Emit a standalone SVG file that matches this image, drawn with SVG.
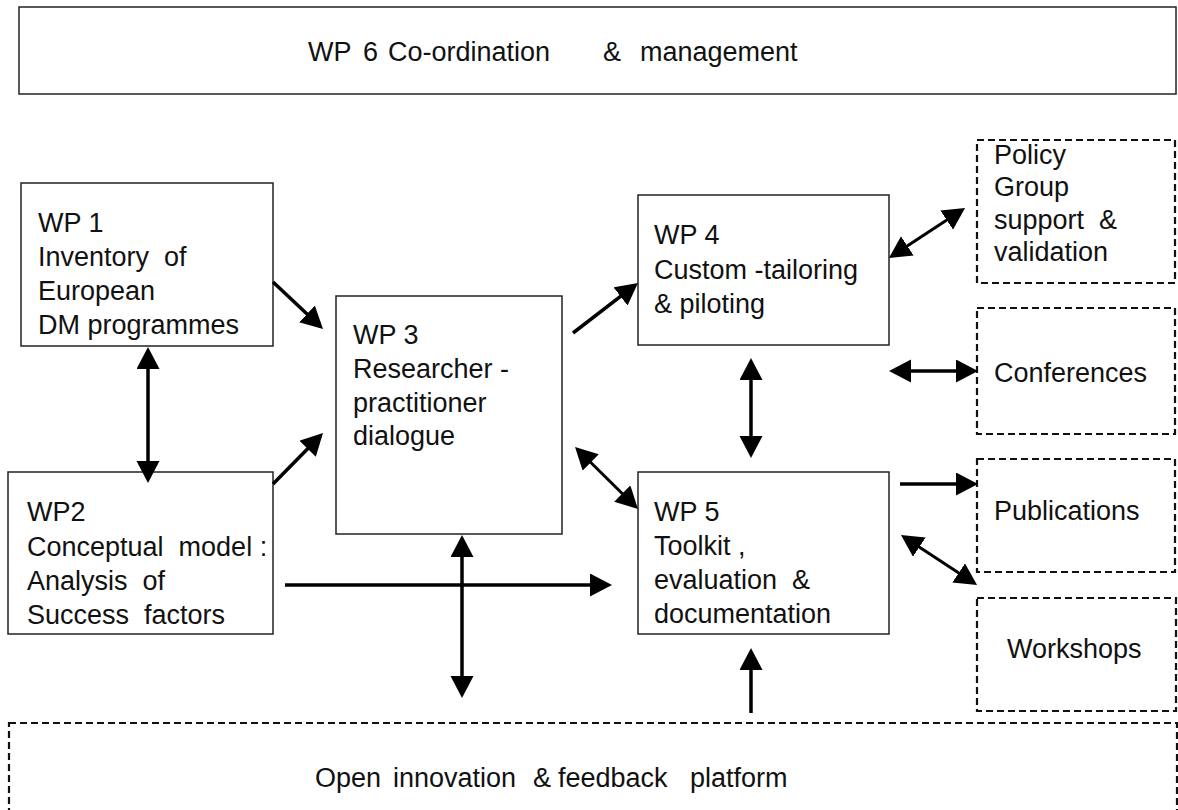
<svg xmlns="http://www.w3.org/2000/svg" width="1178" height="810" viewBox="0 0 1178 810">
<style>
  .box{fill:#fff;stroke:#222;stroke-width:1.5}
  .dbox{fill:#fff;stroke:#111;stroke-width:2.2;stroke-dasharray:7 4}
  .t{font-family:"Liberation Sans",Arial,sans-serif;font-size:27px;fill:#111}
  .c{stroke:#000;stroke-width:3.5;fill:none;marker-end:url(#ah)}
  .c2{stroke:#000;stroke-width:3.5;fill:none;marker-end:url(#ah);marker-start:url(#ah)}
</style>
<defs>
  <marker id="ah" markerUnits="userSpaceOnUse" markerWidth="24" markerHeight="24" refX="18" refY="11.5" orient="auto-start-reverse">
    <path d="M0,0 L22,11.5 L0,23 z" fill="#000"/>
  </marker>
</defs>
<rect width="1178" height="810" fill="#fff"/>

<g id="wp6">
  <rect class="box" x="19" y="7" width="1157" height="87"/>
  <text class="t" y="61"><tspan x="308">WP</tspan><tspan x="363">6</tspan><tspan x="388">Co-ordination</tspan><tspan x="603">&amp;</tspan><tspan x="640">management</tspan></text>
</g>

<g id="wp1">
  <rect class="box" x="21" y="183" width="252" height="163"/>
  <text class="t" xml:space="preserve"><tspan x="38" y="232">WP 1</tspan><tspan x="38" y="266">Inventory  of</tspan><tspan x="38" y="300">European</tspan><tspan x="38" y="334">DM programmes</tspan></text>
</g>

<g id="wp2">
  <rect class="box" x="8" y="472" width="265" height="162"/>
  <text class="t" xml:space="preserve"><tspan x="27" y="521">WP2</tspan><tspan x="27" y="556">Conceptual  model :</tspan><tspan x="27" y="590">Analysis  of</tspan><tspan x="27" y="624">Success  factors</tspan></text>
</g>

<g id="wp3">
  <rect class="box" x="336" y="296" width="226" height="238"/>
  <text class="t" xml:space="preserve"><tspan x="353" y="344">WP 3</tspan><tspan x="353" y="378">Researcher -</tspan><tspan x="353" y="412">practitioner</tspan><tspan x="353" y="445">dialogue</tspan></text>
</g>

<g id="wp4">
  <rect class="box" x="638" y="195" width="251" height="150"/>
  <text class="t" xml:space="preserve"><tspan x="654" y="244">WP 4</tspan><tspan x="654" y="279">Custom -tailoring</tspan><tspan x="654" y="313">&amp; piloting</tspan></text>
</g>

<g id="wp5">
  <rect class="box" x="638" y="472" width="251" height="162"/>
  <text class="t" xml:space="preserve"><tspan x="654" y="521">WP 5</tspan><tspan x="654" y="555">Toolkit ,</tspan><tspan x="654" y="589">evaluation  &amp;</tspan><tspan x="654" y="623">documentation</tspan></text>
</g>

<g id="policy">
  <rect class="dbox" x="977" y="140" width="198" height="143"/>
  <text class="t" xml:space="preserve"><tspan x="994" y="164">Policy</tspan><tspan x="994" y="196">Group</tspan><tspan x="994" y="229">support  &amp;</tspan><tspan x="994" y="261">validation</tspan></text>
</g>

<g id="conferences">
  <rect class="dbox" x="977" y="308" width="198" height="126"/>
  <text class="t" x="994" y="382">Conferences</text>
</g>

<g id="publications">
  <rect class="dbox" x="977" y="459" width="198" height="113"/>
  <text class="t" x="994" y="520">Publications</text>
</g>

<g id="workshops">
  <rect class="dbox" x="977" y="598" width="199" height="113"/>
  <text class="t" x="1007" y="658">Workshops</text>
</g>

<g id="platform">
  <rect class="dbox" x="9" y="723" width="1168" height="110"/>
  <text class="t" y="787"><tspan x="315">Open</tspan><tspan x="393">innovation</tspan><tspan x="533">&amp;</tspan><tspan x="558">feedback</tspan><tspan x="690">platform</tspan></text>
</g>

<g id="connectors">
  <line class="c" x1="273" y1="282" x2="320.1" y2="326.3"/>
  <line class="c" x1="273" y1="484" x2="320.2" y2="435.9"/>
  <line class="c2" x1="148" y1="351" x2="148" y2="479"/>
  <line class="c" x1="573" y1="333" x2="634.8" y2="285.4"/>
  <line class="c2" x1="892.3" y1="255.8" x2="961.7" y2="210.2" style="stroke-width:3"/>
  <line class="c2" x1="751" y1="362" x2="751" y2="454"/>
  <line class="c2" x1="893" y1="371" x2="974" y2="371"/>
  <line class="c2" x1="577.9" y1="449.8" x2="635.1" y2="506.2" style="stroke-width:3"/>
  <line class="c" x1="900" y1="484" x2="974" y2="484"/>
  <line class="c2" x1="904.3" y1="537.2" x2="973.7" y2="582.8" style="stroke-width:3"/>
  <line class="c" x1="285" y1="585" x2="608" y2="585"/>
  <line class="c2" x1="462" y1="539" x2="462" y2="694"/>
  <line class="c" x1="751" y1="713" x2="751" y2="652"/>
</g>
</svg>
